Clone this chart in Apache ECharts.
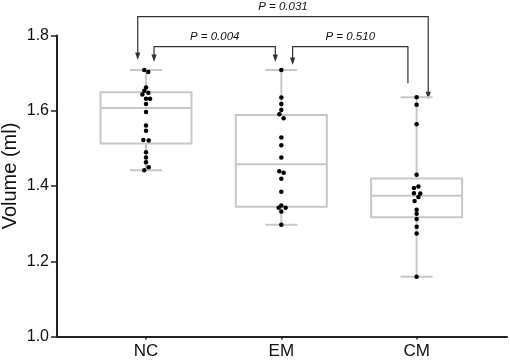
<!DOCTYPE html>
<html>
<head>
<meta charset="utf-8">
<script src="https://cdn.jsdelivr.net/npm/echarts@6/dist/echarts.min.js"></script>
<style>
  html, body { margin: 0; padding: 0; background: #fff; }
  #chart { width: 510px; height: 360px; }
</style>
</head>
<body>
<div id="chart"></div>
<script>
// groups on the x axis
const groups = ['NC', 'EM', 'CM'];

// box stats: min, Q1, median, Q3, max
const boxNC = [1.442, 1.513, 1.607, 1.649, 1.708];
const boxEM = [1.297, 1.345, 1.458, 1.589, 1.708];
const boxCM = [1.159, 1.317, 1.374, 1.420, 1.636];

// individual points (volume, ml) + small horizontal jitter (x units)
const ncValues = [1.708, 1.703, 1.662, 1.653, 1.648, 1.643, 1.632, 1.632, 1.618, 1.597,
  1.561, 1.547, 1.522, 1.521, 1.490, 1.476, 1.463, 1.450, 1.442];
const ncJitter = [-0.013, 0.017, 0, -0.013, 0.017, -0.027, 0, 0.030, 0, 0,
  0, 0, -0.020, 0.020, 0, 0, 0, 0.020, -0.013];

const emValues = [1.708, 1.635, 1.618, 1.602, 1.591, 1.580, 1.529, 1.508, 1.476,
  1.439, 1.435, 1.419, 1.385, 1.348, 1.342, 1.342, 1.332, 1.297];
const emJitter = [0, 0, 0, 0, -0.015, 0.017, 0, 0, 0,
  -0.015, 0.017, 0, 0, 0, -0.020, 0.032, 0, 0];

const cmValues = [1.636, 1.616, 1.564, 1.430, 1.399, 1.395, 1.381, 1.380,
  1.371, 1.360, 1.337, 1.326, 1.312, 1.292, 1.274, 1.159];
const cmJitter = [0, 0, 0, 0, 0.013, -0.020, -0.020, 0.027,
  0.013, -0.015, 0, 0, 0, 0, 0, 0];

// pairwise comparisons: [group a, group b], p label
const compPairs = [[0, 2], [0, 1], [1, 2]];
const pLabels = ['P = 0.031', 'P = 0.004', 'P = 0.510'];

const yTickLabels = ['1.0', '1.2', '1.4', '1.6', '1.8'];

const FONT = 'Liberation Sans, Arial, Helvetica, sans-serif';
const BOX_COLOR = '#c8c8c8';
const INK = '#111';

const boxes = [boxNC, boxEM, boxCM];
const pointSets = [[ncValues, ncJitter], [emValues, emJitter], [cmValues, cmJitter]];

const chart = echarts.init(document.getElementById('chart'));

const option = {
  backgroundColor: '#fff',
  animation: false,
  grid: { left: 57, right: 3, top: 35.5, bottom: 23.5, containLabel: false, outerBoundsMode: 'none' },
  xAxis: {
    type: 'value',
    min: 0.342,
    max: 3.668,
    splitLine: { show: false },
    axisLine: { show: true, onZero: false, lineStyle: { color: '#222', width: 2 } },
    axisTick: { show: true, customValues: [1, 2, 3], length: 3, lineStyle: { color: '#222', width: 1.5 } },
    axisLabel: {
      customValues: [1, 2, 3],
      formatter: v => groups[Math.round(v) - 1],
      color: INK, fontSize: 17, fontFamily: FONT, margin: 6,
    },
  },
  yAxis: {
    type: 'value',
    min: 1.0,
    max: 1.8,
    interval: 0.2,
    splitLine: { show: false },
    axisLine: { show: true, lineStyle: { color: '#222', width: 2 } },
    axisTick: { show: true, length: 6, lineStyle: { color: '#222', width: 1.5 } },
    axisLabel: {
      formatter: v => yTickLabels[Math.round((v - 1.0) / 0.2)],
      color: INK, fontSize: 16, fontFamily: FONT, margin: 8,
    },
    name: 'Volume (ml)',
    nameLocation: 'middle',
    nameGap: 37,
    nameMoveOverlap: false,
    nameTextStyle: { color: INK, fontSize: 20, fontFamily: FONT, padding: [0, 0, 0, 20] },
  },
  series: [
    {
      type: 'custom',
      data: boxes.map((b, i) => [i + 1].concat(b)),
      encode: { x: 0, y: [1, 2, 3, 4, 5] },
      z: 1,
      renderItem: (params, api) => {
        const x = api.value(0);
        const pt = k => api.coord([x, api.value(k)]);
        const pMin = pt(1), pQ1 = pt(2), pMed = pt(3), pQ3 = pt(4), pMax = pt(5);
        const cx = pMin[0];
        const half = 45.5, cap = 16;
        const st = { stroke: BOX_COLOR, lineWidth: 2, fill: null };
        return {
          type: 'group',
          children: [
            { type: 'line', shape: { x1: cx, y1: pMax[1], x2: cx, y2: pQ3[1] }, style: st },
            { type: 'line', shape: { x1: cx, y1: pQ1[1], x2: cx, y2: pMin[1] }, style: st },
            { type: 'line', shape: { x1: cx - cap, y1: pMax[1], x2: cx + cap, y2: pMax[1] }, style: st },
            { type: 'line', shape: { x1: cx - cap, y1: pMin[1], x2: cx + cap, y2: pMin[1] }, style: st },
            { type: 'rect', shape: { x: cx - half, y: pQ3[1], width: half * 2, height: pQ1[1] - pQ3[1] }, style: st },
            { type: 'line', shape: { x1: cx - half, y1: pMed[1], x2: cx + half, y2: pMed[1] }, style: st },
          ],
        };
      },
    },
    {
      type: 'scatter',
      z: 3,
      symbolSize: 4.5,
      itemStyle: { color: '#000', opacity: 1 },
      data: pointSets.flatMap(([vals, jit], g) => vals.map((v, i) => [g + 1 + jit[i], v])),
    },
  ],
};

chart.setOption(option);

// significance brackets with arrows, placed from the group positions
const toPx = (x, y) => chart.convertToPixel({ gridIndex: 0 }, [x, y]);
const bracketGeo = [
  { level: 16.7, dx: [-8.3, 11.6], gap: [10, -2], arrow: [true, true] },
  { level: 46.7, dx: [8, -6], gap: [8, 8], arrow: [true, true] },
  { level: 46.7, dx: [11.3, -8.7], gap: [5, 14], arrow: [true, false] },
];
const graphics = [];
const LINE = '#333';
compPairs.forEach((pair, k) => {
  const geo = bracketGeo[k];
  const ends = pair.map((g, j) => {
    const top = toPx(g + 1, boxes[g][4]);
    return { x: top[0] + geo.dx[j], tip: top[1] - geo.gap[j], arrow: geo.arrow[j] };
  });
  const lineEnd = e => e.arrow ? e.tip - 7 : e.tip;
  graphics.push({
    type: 'polyline',
    shape: { points: [[ends[0].x, lineEnd(ends[0])], [ends[0].x, geo.level], [ends[1].x, geo.level], [ends[1].x, lineEnd(ends[1])]] },
    style: { stroke: LINE, lineWidth: 1.2, fill: null },
    silent: true,
  });
  ends.forEach(e => {
    if (!e.arrow) return;
    graphics.push({
      type: 'polygon',
      shape: { points: [[e.x - 2.6, e.tip - 7.5], [e.x + 2.6, e.tip - 7.5], [e.x, e.tip]] },
      style: { fill: LINE },
      silent: true,
    });
  });
  graphics.push({
    type: 'text',
    x: (ends[0].x + ends[1].x) / 2,
    y: geo.level - 10.4,
    style: {
      text: pLabels[k], align: 'center', verticalAlign: 'middle',
      fontStyle: 'italic', fontSize: 11.5, fontFamily: FONT, fill: INK,
    },
    silent: true,
  });
});
chart.setOption({ graphic: graphics });
</script>
</body>
</html>
